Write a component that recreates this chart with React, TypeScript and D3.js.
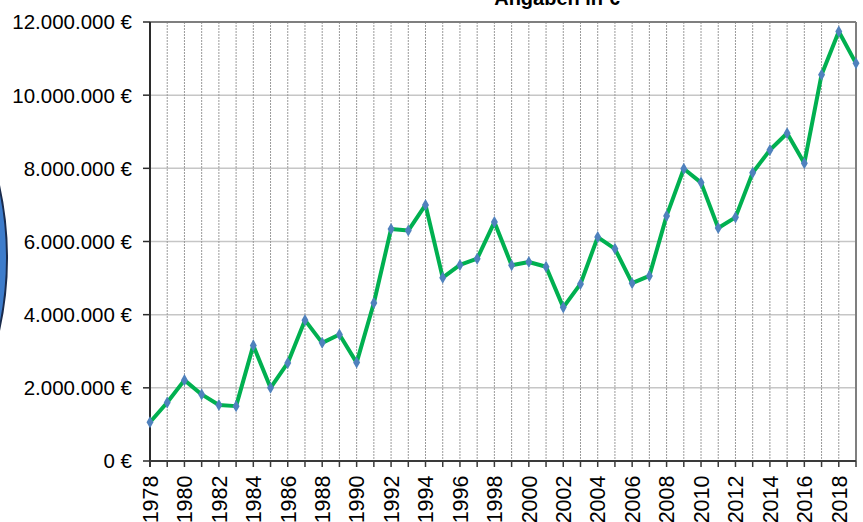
import React from "react";
import * as d3 from "d3";

const years: number[] = [
  1978, 1979, 1980, 1981, 1982, 1983, 1984, 1985, 1986, 1987, 1988, 1989, 1990, 1991,
  1992, 1993, 1994, 1995, 1996, 1997, 1998, 1999, 2000, 2001, 2002, 2003, 2004, 2005,
  2006, 2007, 2008, 2009, 2010, 2011, 2012, 2013, 2014, 2015, 2016, 2017, 2018, 2019,
];
const values: number[] = [
  1058000, 1600000, 2210000, 1820000, 1530000, 1500000, 3160000, 2000000, 2680000, 3850000,
  3230000, 3460000, 2690000, 4320000, 6340000, 6300000, 7000000, 5010000, 5360000, 5530000,
  6530000, 5350000, 5440000, 5310000, 4200000, 4840000, 6120000, 5800000, 4860000, 5060000,
  6700000, 7990000, 7610000, 6370000, 6660000, 7880000, 8500000, 8960000, 8140000, 10560000,
  11740000, 10870000,
];
const yTicks: number[] = [0, 2000000, 4000000, 6000000, 8000000, 10000000, 12000000];
const labelYears: number[] = years.filter((y) => (y - 1978) % 2 === 0 && y <= 2018);
const title = "Angaben in €";

const W = 863;
const H = 522;
const left = 150;
const right = 856;
const top = 22;
const bottom = 461;
const FONT = "Arial, 'Liberation Sans', sans-serif";

const fmt = (v: number) =>
  String(v).replace(/\B(?=(\d{3})+(?!\d))/g, ".") + " €";

export default function App() {
  const x = d3.scaleLinear().domain([1978, 2019]).range([left, right]);
  const y = d3.scaleLinear().domain([0, 12000000]).range([bottom, top]);
  const line = d3
    .line<number>()
    .x((_, i) => x(years[i]))
    .y((d) => y(d));
  const diamond = d3.symbol().type(d3.symbolDiamond).size(42)() as string;

  return (
    <svg
      width={W}
      height={H}
      style={{ position: "fixed", left: 0, top: 0, background: "#fff" }}
      fontFamily={FONT}
    >
      <defs>
        <radialGradient id="bg" cx="0.95" cy="0.5" r="0.5">
          <stop offset="0.9" stopColor="#3d7ccb" />
          <stop offset="1" stopColor="#2a5ea8" />
        </radialGradient>
      </defs>
      <circle cx={-327} cy={258} r={334} fill="url(#bg)" stroke="#1a2b4c" strokeWidth={2} />

      {/* title */}
      <text x={557} y={5} textAnchor="middle" fontSize={20} fontWeight="bold" fill="#000">
        {title}
      </text>

      {/* horizontal grid */}
      {yTicks
        .filter((t) => t > 0 && t < 12000000)
        .map((t) => (
          <line key={"h" + t} x1={left} x2={right} y1={y(t)} y2={y(t)} stroke="#c6c6c6" strokeWidth={1.5} />
        ))}
      {/* vertical grid */}
      {years
        .filter((yr) => yr > 1978 && yr < 2019)
        .map((yr) => (
          <line
            key={"v" + yr}
            x1={x(yr)}
            x2={x(yr)}
            y1={top}
            y2={bottom}
            stroke="#9a9a9a"
            strokeWidth={1}
            strokeDasharray="2,1"
          />
        ))}

      {/* frame */}
      <line x1={left} x2={right} y1={top} y2={top} stroke="#7f7f7f" strokeWidth={2} />
      <line x1={right} x2={right} y1={top} y2={bottom} stroke="#7f7f7f" strokeWidth={2} />

      {/* y axis */}
      <line x1={left} x2={left} y1={top} y2={bottom + 6} stroke="#2b2b2b" strokeWidth={2} />
      {yTicks.map((t) => (
        <g key={"yt" + t}>
          <line x1={left - 7} x2={left} y1={y(t)} y2={y(t)} stroke="#2b2b2b" strokeWidth={1.5} />
          <text x={132} y={y(t)} dy="0.36em" textAnchor="end" fontSize={20.5} fill="#000">
            {fmt(t)}
          </text>
        </g>
      ))}

      {/* x axis */}
      <line x1={left} x2={right} y1={bottom} y2={bottom} stroke="#3a3a3a" strokeWidth={2} />
      {years.map((yr) => (
        <line key={"xt" + yr} x1={x(yr)} x2={x(yr)} y1={bottom} y2={bottom + 6} stroke="#3a3a3a" strokeWidth={1.5} />
      ))}
      {labelYears.map((yr) => (
        <text
          key={"xl" + yr}
          transform={`translate(${x(yr)},475.5) rotate(-90)`}
          dy="0.36em"
          textAnchor="end"
          fontSize={21.5}
          fill="#000"
        >
          {yr}
        </text>
      ))}

      {/* series */}
      <path d={line(values) as string} fill="none" stroke="#00b050" strokeWidth={4} strokeLinejoin="round" />
      {values.map((v, i) => (
        <path key={"m" + i} d={diamond} transform={`translate(${x(years[i])},${y(v)})`} fill="#4f81bd" />
      ))}
    </svg>
  );
}
